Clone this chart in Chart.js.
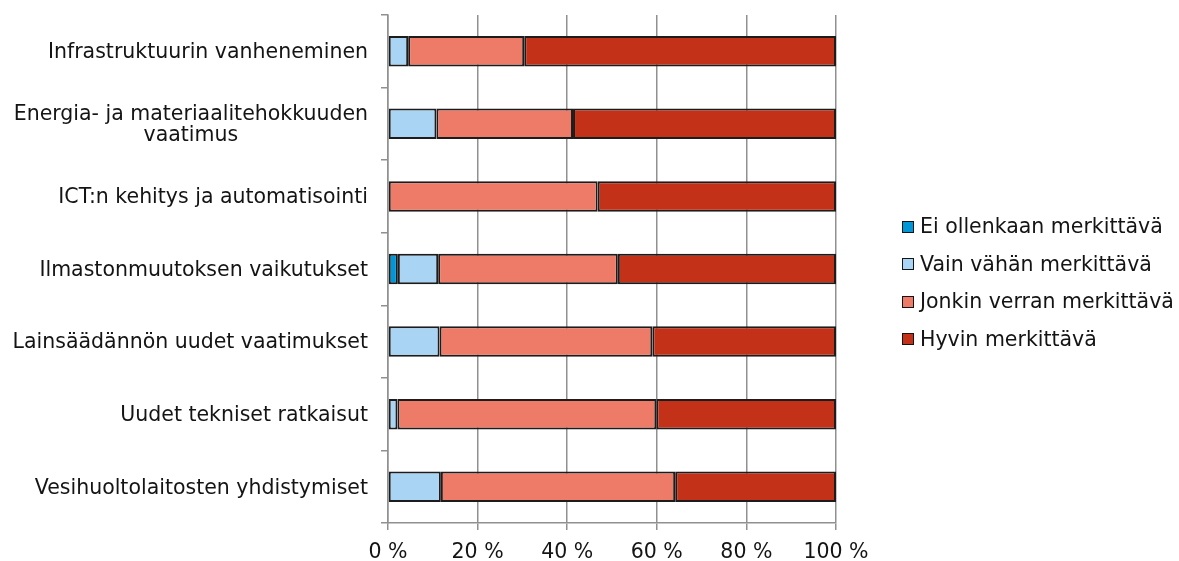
<!DOCTYPE html>
<html>
<head>
<meta charset="utf-8">
<script src="https://cdn.jsdelivr.net/npm/chart.js@4"></script>
<style>
    body { margin: 0; background: #fff; }
    #wrap { position: relative; width: 1179px; height: 561px; }
    #legend { position: absolute; left: 902px; top: 208px; margin: 0; padding: 0; list-style: none;
        font: 20.5px "DejaVu Sans", Verdana, sans-serif; color: #141414; }
    #legend li { height: 37.5px; line-height: 37.5px; white-space: nowrap; display: flex; align-items: center; }
    #legend span.box { display: inline-block; width: 10px; height: 10px; border: 1.5px solid #141414; margin-right: 6px; }
</style>
</head>
<body>
<div id="wrap">
    <canvas id="myChart" width="1179" height="561"></canvas>
    <ul id="legend"></ul>
</div>
<script>
const categories = [
    "Infrastruktuurin vanheneminen",
    ["Energia- ja materiaalitehokkuuden", "vaatimus"],
    "ICT:n kehitys ja automatisointi",
    "Ilmastonmuutoksen vaikutukset",
    "Lainsäädännön uudet vaatimukset",
    "Uudet tekniset ratkaisut",
    "Vesihuoltolaitosten yhdistymiset"
];
const eiOllenkaan = [0, 0, 0, 2.2, 0, 0, 0];
const vainVahan = [4.5, 10.8, 0, 9.0, 11.5, 2.1, 11.8];
const jonkinVerran = [25.9, 30.5, 46.8, 40.1, 47.5, 57.8, 52.3];
const hyvin = [69.6, 58.7, 53.2, 48.7, 41.0, 40.1, 35.9];
const xTicks = [0, 20, 40, 60, 80, 100];

const FONT = '"DejaVu Sans", Verdana, sans-serif';
const TEXT = '#141414';
const GRID = '#909090';

function series(label, data, color) {
    return {
        label: label,
        data: data,
        backgroundColor: color,
        borderColor: '#1c1c1c',
        borderWidth: 2,
        borderSkipped: false,
        barPercentage: 0.42,
        categoryPercentage: 1
    };
}

// category labels: block right-aligned, lines centred inside the block
const yLabels = {
    id: 'yLabels',
    afterDraw(chart) {
        const scale = chart.scales.y;
        const ctx = chart.ctx;
        ctx.save();
        ctx.font = '20.5px ' + FONT;
        ctx.fillStyle = TEXT;
        ctx.textAlign = 'center';
        ctx.textBaseline = 'middle';
        const right = 368;
        const lineH = 20.5;
        chart.data.labels.forEach((lab, i) => {
            const lines = Array.isArray(lab) ? lab : [lab];
            const w = Math.max(...lines.map(l => ctx.measureText(l).width));
            const y = scale.getPixelForTick(i) + 1.5;
            const y0 = y - (lines.length - 1) * lineH / 2;
            lines.forEach((l, j) => ctx.fillText(l, right - w / 2, y0 + j * lineH));
        });
        ctx.restore();
    }
};

// legend as html list, built from the datasets
const htmlLegend = {
    id: 'htmlLegend',
    afterUpdate(chart) {
        const ul = document.getElementById('legend');
        ul.innerHTML = '';
        chart.data.datasets.forEach(ds => {
            const li = document.createElement('li');
            const box = document.createElement('span');
            box.className = 'box';
            box.style.background = ds.backgroundColor;
            li.appendChild(box);
            li.appendChild(document.createTextNode(ds.label));
            ul.appendChild(li);
        });
    }
};

const ctx = document.getElementById('myChart').getContext('2d');
const myChart = new Chart(ctx, {
    type: 'bar',
    data: {
        labels: categories,
        datasets: [
            series('Ei ollenkaan merkittävä', eiOllenkaan, '#0097d9'),
            series('Vain vähän merkittävä', vainVahan, '#aad4f4'),
            series('Jonkin verran merkittävä', jonkinVerran, '#ed7b68'),
            series('Hyvin merkittävä', hyvin, '#c33218')
        ]
    },
    options: {
        indexAxis: 'y',
        responsive: false,
        animation: false,
        layout: { padding: { top: 11, right: 343, left: 0, bottom: 0 } },
        plugins: {
            legend: { display: false },
            tooltip: { enabled: false }
        },
        scales: {
            x: {
                stacked: true,
                min: 0,
                max: 100,
                afterBuildTicks(scale) {
                    scale.ticks = xTicks.map(v => ({ value: v }));
                },
                afterFit(scale) { scale.height = 38; },
                grid: { color: GRID, lineWidth: 1.5, tickLength: 7 },
                border: { color: GRID, width: 1.5 },
                ticks: {
                    padding: 10,
                    color: TEXT,
                    font: { family: FONT, size: 20.5 },
                    callback: v => v + ' %'
                }
            },
            y: {
                stacked: true,
                afterFit(scale) { scale.width = 388; },
                grid: { offset: true, drawOnChartArea: false, color: GRID, lineWidth: 1.5, tickLength: 7 },
                border: { color: GRID, width: 1.5 },
                ticks: { color: 'transparent', font: { family: FONT, size: 20 } }
            }
        }
    },
    plugins: [yLabels, htmlLegend]
});
</script>
</body>
</html>
